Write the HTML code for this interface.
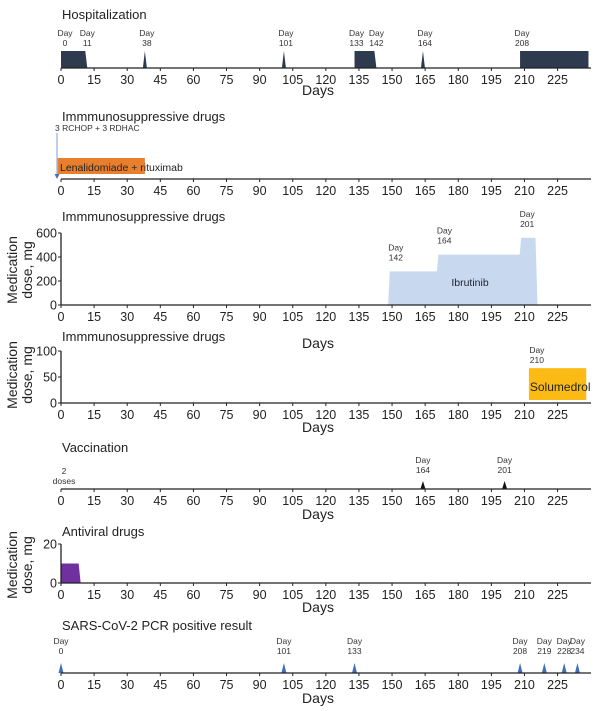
<!DOCTYPE html>
<html><head><meta charset="utf-8"><style>
html,body{margin:0;padding:0;background:#fff;}
svg{display:block;font-family:"Liberation Sans",sans-serif;}
</style></head><body>
<svg id="chart" width="600" height="711" viewBox="0 0 600 711" xmlns="http://www.w3.org/2000/svg"></svg>
<script>
// ---- data ----
const tickDays = [0,15,30,45,60,75,90,105,120,135,150,165,180,195,210,225];
const hospStarts = [0,38,101,133,164,208];
const hospEnds = [11,38,101,142,164,239];
const hospLabels = [0,11,38,101,133,142,164,208];
const ibrutinibDays = [149,171,208.5,215];
const ibrutinibDoses = [280,420,560,560];
const ibrutinibLabelDays = [142,164,201];
const solumedrolStart = 212;
const solumedrolEnd = 238;
const solumedrolDose = 67;
const vaccineDays = [164,201];
const antiviralStart = 0;
const antiviralEnd = 8;
const antiviralDose = 10;
const pcrDays = [0,101,133,208,219,228,234];
const lenalidomideStart = -1.5;
const lenalidomideEnd = 38;

// ---- helpers ----
const svg = document.getElementById('chart');
const NS = 'http://www.w3.org/2000/svg';
const X0 = 61, PXD = 2.207, AXEND = 591;
function xs(d){ return X0 + d*PXD; }
function mk(tag, attrs, parent){
  const e = document.createElementNS(NS, tag);
  for (const k in attrs) e.setAttribute(k, attrs[k]);
  (parent||svg).appendChild(e);
  return e;
}
function txt(x,y,s,size,anchor,fill,parent){
  const t = mk('text',{x:x,y:y,'font-size':size,'text-anchor':anchor||'start',fill:fill||'#222'},parent);
  t.textContent = s;
  return t;
}
function axis(y, name, daysY){
  const g = mk('g',{});
  
  
  mk('line',{x1:X0,y1:y,x2:AXEND,y2:y,stroke:'#222','stroke-width':1.3},g);
  tickDays.forEach(d=>{
    mk('line',{x1:xs(d),y1:y,x2:xs(d),y2:y+3,stroke:'#222','stroke-width':1},g);
    const t = txt(xs(d), y+16, String(d), 12.5, 'middle', '#222', g);
    
    
  });
  if (daysY){
    const t = txt(318, daysY, 'Days', 14, 'middle', '#222', g);
    
    
  }
}
function title(y, s){
  const t = txt(62, y, s, 13, 'start', '#222');
  
  
}
function dayLabel(x, y, d){
  const g = mk('g',{});
  
  
  txt(x, y, 'Day', 8.5, 'middle', '#333', g);
  txt(x, y+10, String(d), 8.5, 'middle', '#333', g);
}
function yAxis(yTop, yBot, vals, vmax, name){
  const g = mk('g',{});
  
  
  mk('line',{x1:X0,y1:yTop,x2:X0,y2:yBot,stroke:'#222','stroke-width':1.3},g);
  vals.forEach(v=>{
    const y = yBot - (yBot-yTop)*v/vmax;
    mk('line',{x1:X0-3,y1:y,x2:X0,y2:y,stroke:'#222','stroke-width':1},g);
    txt(X0-4, y+4.5, String(v), 12.5, 'end', '#222', g);
  });
}
function yTitle(cy){
  const g = mk('g',{transform:'translate(0,'+cy+') rotate(-90)'});
  
  
  txt(0, 17, 'Medication', 14, 'middle', '#222', g);
  txt(0, 32, 'dose, mg', 14, 'middle', '#222', g);
}

// ---- Panel 1: Hospitalization ----
title(19, 'Hospitalization');
const hAx = 68, hTop = 51, hCol = '#2e3a4d';
hospStarts.forEach((s,i)=>{
  const e = hospEnds[i];
  let pts;
  if (e === s) pts = [[xs(s)-2,hAx],[xs(s),hTop],[xs(s)+2,hAx]];
  else pts = [[xs(s),hAx],[xs(s),hTop],[xs(e),hTop],[xs(e)+(e>=239?0:2),hAx]];
  const p = mk('polygon',{points:pts.map(q=>q.join(',')).join(' '),fill:hCol});
  
  
});
hospLabels.forEach(d=>{
  let x = xs(d)+2;
  if (d===0) x = xs(0)+4;
  dayLabel(x, 36, d);
});
axis(hAx, 'hospitalization-x-axis', 95);

// ---- Panel 2: Immunosuppressive (chemo) ----
title(121, 'Immmunosuppressive drugs');
const t2 = txt(55, 131, '3 RCHOP + 3 RDHAC', 8.5, 'start', '#333');


const arrow = mk('g',{});


mk('line',{x1:57,y1:133,x2:57,y2:175,stroke:'#7f9fd6','stroke-width':1},arrow);
mk('polygon',{points:'54.5,174 59.5,174 57,179',fill:'#4472c4'},arrow);
const ob = mk('rect',{x:xs(lenalidomideStart),y:158,width:xs(lenalidomideEnd)-xs(lenalidomideStart),height:16,fill:'#e87f2c'});


const ol = txt(60, 171, 'Lenalidomiade + rituximab', 10.5, 'start', '#222');


axis(179, 'chemo-x-axis', null);

// ---- Panel 3: Ibrutinib ----
title(221, 'Immmunosuppressive drugs');
const iAx = 305, iTop = 233, iMax = 600;
function iy(v){ return iAx - (iAx-iTop)*v/iMax; }
let pts = [[xs(ibrutinibDays[0]-0.8), iAx]];
for (let i=0;i<ibrutinibDays.length;i++){
  if (i>0) pts.push([xs(ibrutinibDays[i])-1.5, iy(ibrutinibDoses[i-1])]);
  pts.push([xs(ibrutinibDays[i]), iy(ibrutinibDoses[i])]);
}
pts.push([xs(ibrutinibDays[ibrutinibDays.length-1])+2, iAx]);
const ib = mk('polygon',{points:pts.map(q=>q.join(',')).join(' '),fill:'#c8d9ef'});


const il = txt(470, 286, 'Ibrutinib', 10.5, 'middle', '#223');


ibrutinibLabelDays.forEach((d,i)=>{
  dayLabel(xs(ibrutinibDays[i])+6, iy(ibrutinibDoses[i])-21, d);
});
yAxis(iTop, iAx, [0,200,400,600], iMax, 'ibrutinib-y-axis');
axis(iAx, 'ibrutinib-x-axis', 348);
yTitle(270);

// ---- Panel 4: Solumedrol ----
title(341, 'Immmunosuppressive drugs');
const sAx = 403, sTop = 351, sMax = 100;
function sy(v){ return sAx - (sAx-sTop)*v/sMax; }
const sb = mk('rect',{x:xs(solumedrolStart),y:sy(solumedrolDose),width:xs(solumedrolEnd)-xs(solumedrolStart),height:sAx-3-sy(solumedrolDose),fill:'#fcbb14'});


const sl = txt(xs(solumedrolStart)+1, 391, 'Solumedrol', 12, 'start', '#222');


dayLabel(xs(solumedrolStart)+8, 353, 210);
yAxis(sTop, sAx, [0,50,100], sMax, 'solumedrol-y-axis');
axis(sAx, 'solumedrol-x-axis', 432);
yTitle(375);

// ---- Panel 5: Vaccination ----
title(452, 'Vaccination');
const vAx = 489;
const dl = mk('g',{});


txt(64, 474, '2', 8.5, 'middle', '#333', dl);
txt(64, 484, 'doses', 8.5, 'middle', '#333', dl);
vaccineDays.forEach(d=>{
  const p = mk('polygon',{points:(xs(d)-2.5)+','+vAx+' '+xs(d)+','+(vAx-8)+' '+(xs(d)+2.5)+','+vAx,fill:'#111'});
  
  
  dayLabel(xs(d), 463, d);
});
axis(vAx, 'vaccination-x-axis', 519);

// ---- Panel 6: Antiviral ----
title(536, 'Antiviral drugs');
const aAx = 583, aTop = 544, aMax = 20;
function ay(v){ return aAx - (aAx-aTop)*v/aMax; }
const ap = mk('polygon',{points:[[xs(antiviralStart),aAx],[xs(antiviralStart),ay(antiviralDose)],[xs(antiviralEnd),ay(antiviralDose)],[xs(antiviralEnd)+2,aAx]].map(q=>q.join(',')).join(' '),fill:'#7030a0'});


yAxis(aTop, aAx, [0,20], aMax, 'antiviral-y-axis');
axis(aAx, 'antiviral-x-axis', 612);
yTitle(565);

// ---- Panel 7: PCR ----
title(630, 'SARS-CoV-2 PCR positive result');
const pAx = 673;
pcrDays.forEach(d=>{
  const p = mk('polygon',{points:(xs(d)-2.5)+','+pAx+' '+xs(d)+','+(pAx-10)+' '+(xs(d)+2.5)+','+pAx,fill:'#3f6fb6'});
  
  
  dayLabel(xs(d), 644, d);
});
axis(pAx, 'pcr-x-axis', 703);
</script>
</body></html>
